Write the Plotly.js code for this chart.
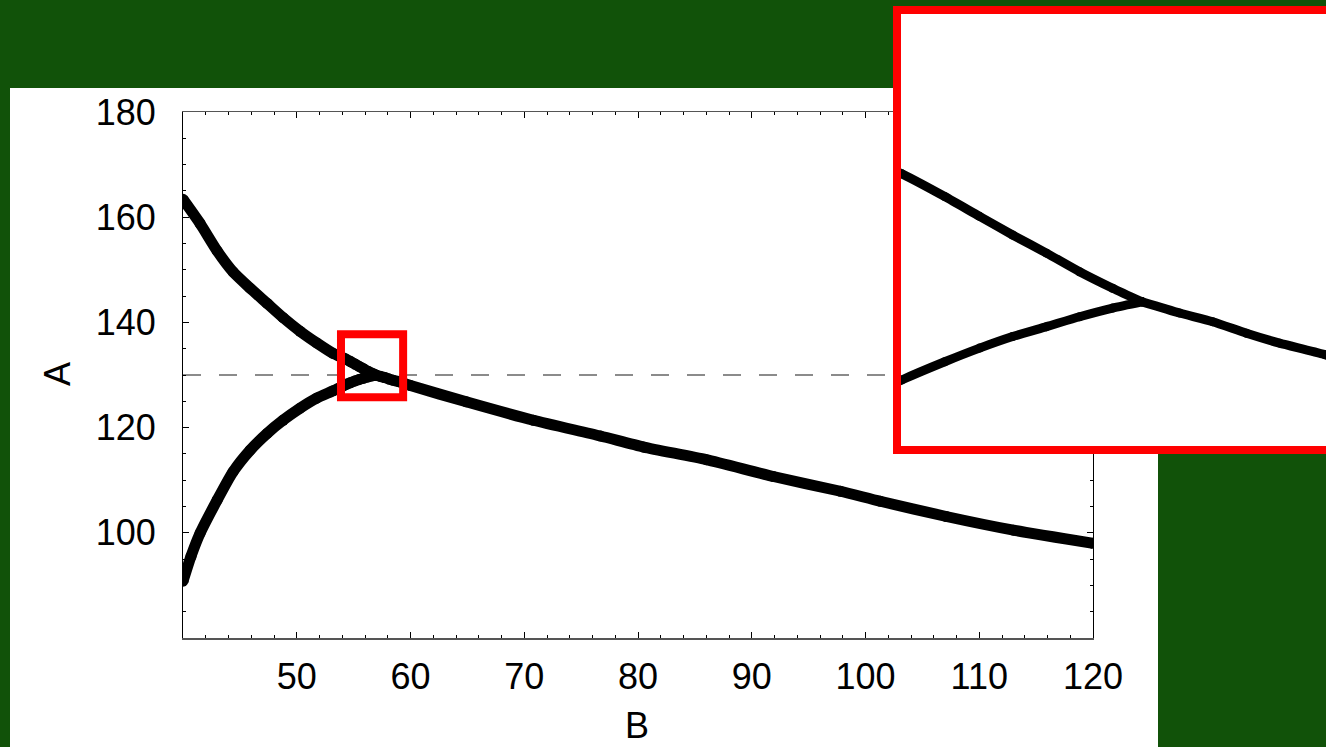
<!DOCTYPE html>
<html>
<head>
<meta charset="utf-8">
<script src="https://cdn.plot.ly/plotly-3.0.1.min.js"></script>
<style>
  html, body { margin: 0; padding: 0; background: #115209; }
  #chart { width: 1326px; height: 747px; }
</style>
</head>
<body>
<div id="chart"></div>
<script>
// ---- data ----
const upperB = [40, 41.5, 43, 44.4, 45.9, 47.4, 48.8, 50.3, 51.75, 53.2, 54.25, 54.73, 55.12, 55.49, 55.87, 56.24, 56.61, 56.94];
const upperA = [163.4, 158.8, 153.6, 149.6, 146.5, 143.6, 140.9, 138.3, 136.1, 134.1, 133.1, 132.55, 132.07, 131.62, 131.18, 130.73, 130.33, 130.0];
const lowerB = [40, 40.7, 41.5, 43, 44.4, 45.9, 47.4, 48.8, 50.3, 51.75, 53.2, 54.25, 54.73, 55.12, 55.49, 55.87, 56.24, 56.61, 56.94];
const lowerA = [90.8, 95.5, 99.9, 106.2, 111.6, 115.7, 118.9, 121.4, 123.7, 125.6, 127.0, 128.11, 128.55, 128.88, 129.16, 129.40, 129.64, 129.85, 130.0];
const mergedB = [56.94, 57.36, 57.73, 58.11, 58.48, 58.99, 60.0, 64.9, 70.8, 76.7, 80.5, 86.0, 91.9, 97.8, 101.3, 107.1, 113.0, 120.0];
const mergedA = [130.0, 129.73, 129.52, 129.24, 129.0, 128.72, 128.0, 124.9, 121.4, 118.4, 116.3, 113.9, 110.7, 107.9, 106.0, 103.1, 100.5, 98.0];
const refA = [130];                 // dashed reference level
const zoomB = [54.24, 59.0];        // inset (zoom window) B range
const zoomA = [126.51, 136.97];     // inset (zoom window) A range
const bTicks = [50, 60, 70, 80, 90, 100, 110, 120];
const aTicks = [100, 120, 140, 160, 180];
const xTitle = 'B';
const yTitle = 'A';

// ---- layout helpers (pixel -> paper) ----
const W = 1326, H = 747;
const px = v => v / W;
const py = v => 1 - v / H;
const GREEN = '#115209';
const FONT = 'Liberation Sans, Arial, sans-serif';

function curve(x, y, xa, ya, w) {
  return {
    x: x, y: y, xaxis: xa, yaxis: ya, type: 'scatter', mode: 'lines+markers',
    line: {color: '#000', width: w, shape: 'spline', smoothing: 0.6},
    marker: {color: '#000', size: w}, hoverinfo: 'skip'
  };
}

const traces = [
  curve(upperB, upperA, 'x', 'y', 11),
  curve(lowerB, lowerA, 'x', 'y', 11),
  curve(mergedB, mergedA, 'x', 'y', 11),
  curve(upperB, upperA, 'x2', 'y2', 9),
  curve(lowerB, lowerA, 'x2', 'y2', 9),
  curve(mergedB, mergedA, 'x2', 'y2', 9)
];

const pxPerB = (1093 - 183) / 80, pxPerA = (638 - 112) / 100;

const layout = {
  width: W, height: H,
  margin: {l: 0, r: 0, t: 0, b: 0},
  paper_bgcolor: GREEN,
  plot_bgcolor: '#ffffff',
  showlegend: false,
  font: {family: FONT, color: '#000'},
  xaxis: {
    domain: [px(183), px(1093)], anchor: 'y',
    range: [40, 120], tickmode: 'array', tickvals: bTicks,
    ticks: 'inside', ticklen: 6, tickcolor: '#000', tickwidth: 1,
    minor: {tickmode: 'linear', dtick: 2, tick0: 0, ticks: 'inside', ticklen: 3, tickcolor: '#000'},
    showline: true, linecolor: '#555', linewidth: 1.5, mirror: 'ticks',
    showgrid: false, zeroline: false,
    tickfont: {family: FONT, size: 36, color: '#000'},
    ticklabelstandoff: 6
  },
  yaxis: {
    domain: [py(638), py(112)], anchor: 'x',
    range: [80, 180], tickmode: 'array', tickvals: aTicks,
    ticks: 'inside', ticklen: 6, tickcolor: '#000', tickwidth: 1,
    minor: {tickmode: 'linear', dtick: 5, tick0: 0, ticks: 'inside', ticklen: 3, tickcolor: '#000'},
    showline: true, linecolor: '#000', linewidth: 1, mirror: 'ticks',
    showgrid: false, zeroline: false,
    tickfont: {family: FONT, size: 36, color: '#000'},
    ticklabelstandoff: 19
  },
  xaxis2: {
    domain: [px(901), 1], anchor: 'y2', range: zoomB,
    showline: false, showgrid: false, zeroline: false, ticks: '', showticklabels: false
  },
  yaxis2: {
    domain: [py(446), py(14)], anchor: 'x2', range: zoomA,
    showline: false, showgrid: false, zeroline: false, ticks: '', showticklabels: false
  },
  shapes: [
    // white panel behind the main chart
    {type: 'rect', xref: 'paper', yref: 'paper', x0: px(10), x1: px(1158), y0: -0.02, y1: py(88),
     fillcolor: '#ffffff', line: {width: 0}, layer: 'below'},
    // dashed reference line, main
    {type: 'line', xref: 'x domain', yref: 'y', x0: 0, x1: 1, y0: refA[0], y1: refA[0],
     line: {color: '#666', width: 1.3, dash: '18px,18px'}, layer: 'below'},
    // dashed reference line, inset
    {type: 'line', xref: 'x2 domain', yref: 'y2', x0: 0, x1: 1, y0: refA[0], y1: refA[0],
     line: {color: '#666', width: 1.3, dash: '12px,13px'}, layer: 'below'},
    // red zoom window on the main chart
    {type: 'rect', xref: 'x', yref: 'y',
     x0: zoomB[0] - 4 / pxPerB, x1: zoomB[1] + 4 / pxPerB,
     y0: zoomA[0] - 4 / pxPerA, y1: zoomA[1] + 4 / pxPerA,
     line: {color: '#ff0000', width: 8}, fillcolor: 'rgba(0,0,0,0)', layer: 'above'},
    // red border of the inset
    {type: 'rect', xref: 'paper', yref: 'paper', x0: px(897), x1: 1.2, y0: py(450), y1: py(10),
     line: {color: '#ff0000', width: 8}, fillcolor: 'rgba(0,0,0,0)', layer: 'above'}
  ],
  annotations: [
    {text: xTitle, xref: 'paper', yref: 'paper', x: px(637), y: py(725),
     xanchor: 'center', yanchor: 'middle', showarrow: false,
     font: {family: FONT, size: 36, color: '#000'}},
    {text: yTitle, xref: 'paper', yref: 'paper', x: px(57), y: py(374),
     xanchor: 'center', yanchor: 'middle', showarrow: false, textangle: -90,
     font: {family: FONT, size: 36, color: '#000'}}
  ]
};

Plotly.newPlot('chart', traces, layout, {displayModeBar: false, staticPlot: true});
</script>
</body>
</html>
